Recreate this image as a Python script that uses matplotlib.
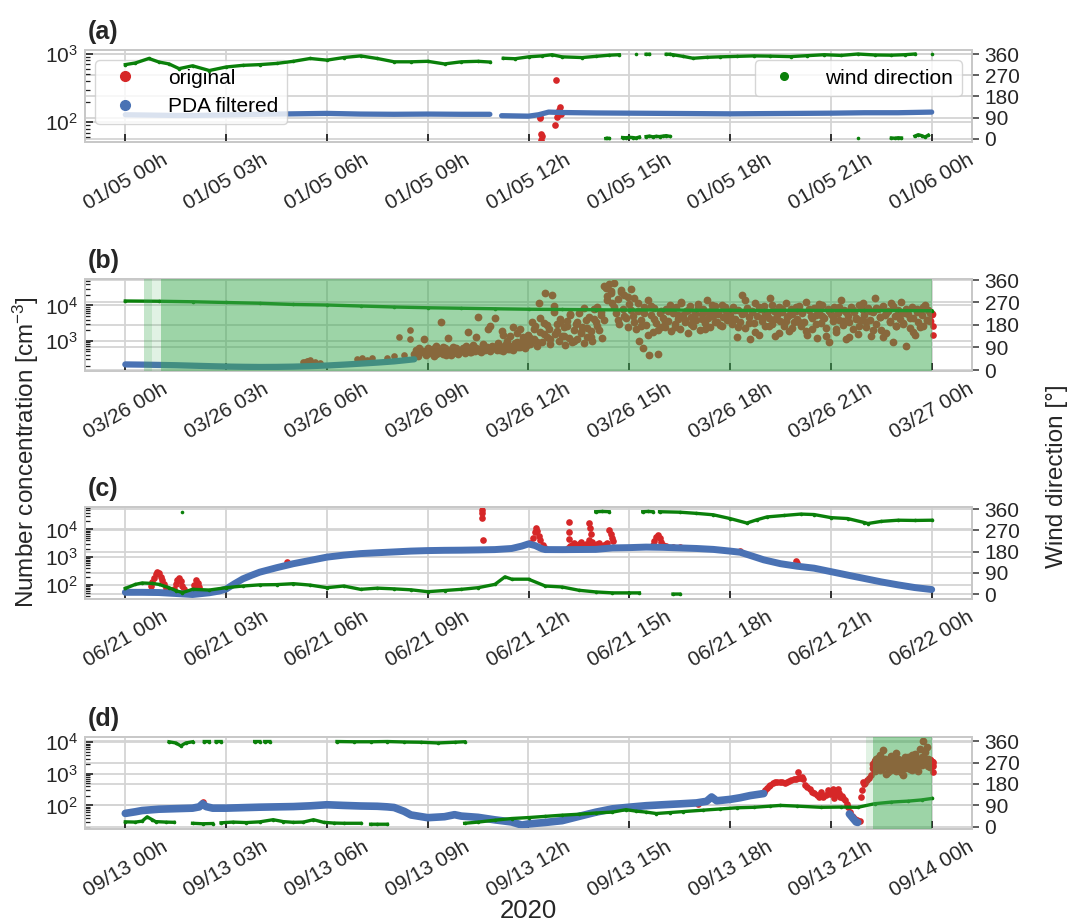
import numpy as np
import matplotlib
matplotlib.use('Agg')
import matplotlib.pyplot as plt
import matplotlib.dates as mdates
import matplotlib.ticker as mticker
import matplotlib.transforms as mtransforms
from matplotlib.lines import Line2D

nan = np.nan

plt.rcParams['font.family'] = ['Liberation Sans', 'DejaVu Sans']
plt.rcParams['mathtext.fontset'] = 'custom'
plt.rcParams['mathtext.rm'] = 'Liberation Sans'
plt.rcParams['mathtext.it'] = 'Liberation Sans:italic'
plt.rcParams['mathtext.bf'] = 'Liberation Sans:bold'

# ------------------------------------------------------------------ data
DAYS = ['2020-01-05', '2020-03-26', '2020-06-21', '2020-09-13']
PANEL_LABELS = ['(a)', '(b)', '(c)', '(d)']
WIND_TICKS = [0, 90, 180, 270, 360]

# ---- panel (a) 01/05
A_WIND_H = [0.0, 0.3, 0.7, 1.0, 1.3, 1.6, 2.0, 2.5, 3.0, 3.5,
            4.0, 4.5, 5.0, 5.5, 6.0, 6.5, 7.0, 7.5, 8.0, 8.5,
            9.0, 9.5, 10.0, 10.5, 10.85, 11.0, 11.25, 11.6, 12.0, 12.4,
            12.7, 13.0, 13.6, 14.0, 14.4, 14.7, 14.9, 15.2, 15.35, 15.5,
            15.6, 15.8, 16.1, 16.2, 16.25, 16.3, 16.6, 16.9, 17.3, 17.7,
            18.2, 18.7, 19.2, 19.8, 20.3, 20.8, 21.3, 21.8, 22.3, 22.8,
            23.2, 23.5, 23.7, 24.0]
A_WIND_DEG = [315, 322, 341, 326, 318, 298, 310, 290, 305, 312,
              315, 320, 329, 341, 334, 345, 352, 341, 327, 327,
              329, 318, 327, 329, 326, nan, 342, 340, 348, 352,
              357, 348, 345, 350, 355, 357, nan, 359, nan, 359,
              359, nan, 359, 359, nan, 357, 350, 342, 346, 348,
              350, 352, 351, 349, 353, 357, 354, 360, 356, 355,
              357, 360, nan, 358]
A_WLOW_H = [14.30, 14.35, 14.40, 14.50, 14.80, 14.90, 15.00, 15.10, 15.20, 15.30,
            15.40, 15.50, 15.60, 15.70, 15.80, 15.90, 16.00, 16.10, 16.20, 16.30,
            21.80, 21.85, 22.80, 22.90, 23.00, 23.10, 23.20, 23.50, 23.60, 23.70,
            23.80, 23.90]
A_WLOW_DEG = [2, 3, 2, nan, 6, 5, 7, 6, 4, 8,
              nan, 10, 12, 9, 11, 10, 12, 14, 11, nan,
              3, nan, 4, 3, 5, 4, nan, 12, 18, 14,
              8, 16]
A_PDA_H = [0, 0.5, 1, 1.5, 2, 3, 4, 5, 6, 7,
           8, 9, 10, 10.85, 11.0, 11.2, 11.6, 12.0, 12.3, 12.6,
           13, 14, 15, 16, 17, 18, 19, 20, 21, 22,
           23, 24]
A_PDA_V = [128, 127, 126, 125, 125, 127, 130, 132, 134, 131,
           130, 131, 130, 130, nan, 124, 123, 122, 128, 140,
           138, 136, 135, 134, 133, 132, 133, 134, 135, 137,
           137, 140]
A_ORIG_H = [12.33, 12.35, 12.36, 12.38, 12.40, 12.80, 12.83, 12.86, 12.90, 12.93, 12.96]
A_ORIG_V = [115, 118, 67, 55, 62, 91, 420, 119, 150, 167, 130]

# ---- panel (b) 03/26
B_WIND_H = [0, 1, 2, 3, 4, 5, 6, 7, 8, 9, 10, 11, 12, 13, 14, 15, 16, 17, 18, 19, 20, 21, 22, 23, 24]
B_WIND_DEG = [276, 275, 273, 270, 267, 262, 260, 256, 252, 249, 247, 245, 243,
              242, 241, 240, 240, 239, 239, 238, 239, 238, 238, 238, 237]
B_PDA_H = [0, 0.5, 1, 1.5, 2, 2.5, 3, 3.5, 4, 4.5, 5, 5.5, 6, 6.5, 7, 7.5, 8, 8.3, 8.6]
B_PDA_V = [215, 212, 208, 204, 198, 192, 187, 184, 182, 183, 186, 192, 200, 212,
           226, 242, 262, 280, 300]
B_ORIG_PRE_H = [5.30, 5.35, 5.40, 5.45, 5.50, 5.65, 5.80, 6.90, 7.05, 7.20,
                7.35, 7.80, 8.00, 8.16, 8.30, 8.46, 8.48]
B_ORIG_PRE_V = [255, 250, 265, 275, 285, 255, 240, 300, 320, 295,
                330, 335, 370, 1290, 400, 1960, 1100]
B_CLOUD_START, B_CLOUD_STEP = 8.60, 0.05
B_CLOUD_V = [
    420, 560, 380, 610, 470, 520, 1150, 400, 640, 450,
    500, 590, 380, 700, 460, 530, 3300, 420, 610, 480,
    1200, 540, 400, 650, 470, 580, 430, 520,
    500, 620, 450, 700, 1800, 560, 480, 760, 520, 640,
    4700, 590, 470, 820, 540, 660, 2100, 500, 720, 610,
    4400, 560, 880, 650, 1900, 520, 760, 980, 600, 1400,
    700, 540, 860, 1700, 650, 2200, 780, 1100, 620, 900,
    1500, 800, 3400, 1100, 2600, 700, 12000, 1800, 950, 3100,
    23000, 1300, 2200, 800, 20000, 6500, 1600, 2900, 1000, 4200,
    1400, 2500, 750, 3600, 1200, 5200, 900, 2000, 3000, 1100,
    6000, 1700, 2400, 850, 3800, 1300, 4600, 1900, 1000, 7800,
    3500, 9000, 2000, 5500, 1200, 4000, 32000, 18000, 40000, 25000,
    12000, 44000, 6000, 15000, 3000, 28000, 8000, 20000, 4500, 2500,
    11000, 30000, 5000, 16000, 2200, 7000, 1000, 3800, 620, 9000,
    2800, 14000, 400, 5200, 1800, 8500, 3200, 420, 6200, 2400,
    4500, 2500, 7800, 3600, 10500, 1900, 6000, 3000, 8800, 4200,
    2200, 12500, 5200, 3300, 7000, 1700, 9500, 4800, 2700, 6500,
    3900, 11000, 2000, 5600, 8000, 3100, 14000, 4400, 2400, 7200,
    5000, 9800, 3500, 6300, 2800, 10000, 4600, 7600, 3800, 6800,
    5500, 2900, 9000, 4100, 1300, 7400, 3400, 20000, 6000, 2300,
    8300, 4800, 1100, 6800, 3200, 11500, 5000, 1500, 7900, 3700,
    9500, 2600, 6100, 4300, 16000, 3000, 7000, 1400, 5300, 9000,
    3600, 6400, 2700, 12000, 4700, 1900, 8200, 5800, 3300, 7100,
    4200, 9800, 2600, 6500, 3400, 12500, 1500, 7200, 4900, 2100,
    8600, 5400, 1200, 6900, 3100, 10500, 4500, 2300, 7700, 900,
    5700, 3600, 9200, 1800, 6300, 4000, 14000, 2800, 7500, 1100,
    5100, 3300, 8900, 2200, 6600, 4400, 1600, 10000, 3900, 7300,
    5200, 2500, 8700, 3800, 1400, 6400, 16000, 3000, 7900, 4600,
    2000, 9600, 5500, 1700, 6800, 3500, 11500, 900, 4900, 2700,
    7600, 4200, 12500, 3100, 6200, 700, 5800, 2300, 9000, 4500,
    1500, 8100, 3300, 6900, 5300, 2600, 10500, 4000, 7300, 3600,
    5900]
B_CLOUD2_START, B_CLOUD2_STEP = 9.05, 0.1
B_CLOUD2_V = [
    480, 590, 430, 520, 660, 400, 560, 450, 620, 510,
    540, 680, 470, 600, 1300, 520, 740, 580, 2600, 640,
    700, 560, 1500, 820, 600, 2400, 950, 680, 1250, 780,
    1200, 2100, 900, 4500, 1600, 2800, 1100, 9500, 1900, 3300,
    1400, 2600, 5600, 1000, 3300, 1800, 8500, 2300, 1300, 4200,
    2600, 6500, 36000, 14000, 22000, 9000, 3800, 24000, 5000, 17000,
    7500, 3400, 12000, 2600, 6000, 1500, 9500, 4200, 2000, 7000,
    3300, 6800, 9200, 2500, 5400, 12000, 3800, 7400, 2900, 5900,
    8400, 4200, 2100, 6600, 10500, 3500, 5800, 2600, 9000, 4900,
    3700, 7600, 2400, 5800, 14000, 3200, 6600, 1800, 9200, 4500,
    6100, 2700, 10500, 4200, 1700, 7800, 3600, 5400, 2300, 8800,
    3300, 6200, 1900, 8200, 4500, 2900, 11000, 5100, 1400, 6800,
    4600, 2100, 9000, 3700, 6400, 1300, 7400, 4200, 2700, 12000,
    3400, 6800, 2000, 8600, 4700, 1300, 6200, 3600, 9800, 2600,
    5600, 3000, 7800, 4400, 1800, 6600, 2500, 9300, 4000, 6000]
B_ORIG_END_H = [24.04, 24.04]
B_ORIG_END_V = [2600, 1500]
B_SHADE = (0.55, 24.0)

# ---- panel (c) 06/21
C_WIND_LO_H = [0.0, 0.3, 0.5, 0.8, 1.0, 1.3, 1.5, 1.7, 2.0, 2.5,
               3.0, 3.5, 4.0, 4.5, 5.0, 5.5, 6.0, 6.5, 7.0, 7.5,
               8.0, 8.5, 9.0, 9.5, 10.0, 10.5, 11.0, 11.3, 11.5, 12.0,
               12.5, 13.0, 13.5, 14.0, 14.5, 15.0, 15.3, 15.5, 16.3, 16.5]
C_WIND_LO_DEG = [24, 41, 47, 45, 41, 27, 15, 6, 20, 17,
                 27, 34, 39, 40, 44, 38, 27, 34, 20, 25,
                 22, 18, 10, 15, 20, 27, 41, 73, 63, 63,
                 34, 30, 16, 9, 5, 5, 5, nan, 0, 0]
C_WIND_HI_H = [1.7, 1.75, 14.0, 14.2, 14.4, 14.5, 15.4, 15.55, 15.7, 15.8,
               15.9, 16.5, 17.0, 17.5, 18.0, 18.5, 18.8, 19.1, 19.6, 20.1,
               20.5, 21.0, 21.5, 22.0, 22.1, 22.5, 23.0, 23.5, 24.0]
C_WIND_HI_DEG = [349, nan, 349, 350, 349, nan, 349, 350, 349, nan,
                 349, 347, 342, 336, 320, 301, 315, 327, 333, 339,
                 337, 324, 320, 303, 299, 308, 313, 312, 313]
C_PDA_H = [0, 0.5, 1, 1.5, 2, 2.5, 2.8, 3, 3.25, 3.5,
           3.75, 4, 4.5, 5, 5.5, 6, 6.5, 7, 7.5, 8,
           8.5, 9, 9.5, 10, 10.5, 11, 11.5, 11.8, 12.0, 12.2,
           12.4, 12.5, 13, 13.5, 14, 14.5, 15, 15.5, 16, 16.5,
           17, 17.5, 18, 18.3, 18.6, 19, 19.5, 20, 20.5, 21,
           21.5, 22, 22.5, 23, 23.5, 24]
C_PDA_V = [54, 54, 53, 49, 45, 52, 60, 71, 110, 165,
           220, 287, 415, 580, 760, 1000, 1180, 1340, 1440, 1540,
           1650, 1720, 1760, 1780, 1820, 1870, 2050, 2500, 3000, 2600,
           2000, 1870, 1860, 1880, 1900, 2150, 2200, 2300, 2250, 2150,
           2050, 1900, 1650, 1500, 1150, 800, 580, 470, 400, 300,
           225, 170, 128, 100, 80, 68]
C_ORIG_H = [0.75, 0.80, 0.85, 0.90, 0.95, 1.00, 1.05, 1.10, 1.15, 1.20,
            1.45, 1.50, 1.55, 1.60, 1.65, 1.70, 1.75,
            2.00, 2.05, 2.10, 2.15, 2.20, 2.25,
            4.80,
            10.61, 10.63, 10.63, 10.65,
            12.05, 12.12, 12.18, 12.22, 12.26, 12.30, 12.35, 12.42, 12.50,
            13.18, 13.20, 13.22, 13.22, 13.25, 13.28,
            13.40, 13.50, 13.60,
            13.75, 13.80, 13.80, 13.82, 13.85, 13.88, 13.95,
            14.05, 14.15, 14.25, 14.35,
            14.40, 14.45, 14.48, 14.52,
            15.70, 15.75, 15.80, 15.85, 15.90, 15.95, 16.00, 16.10, 16.30, 16.50,
            18.30,
            19.95, 19.98, 20.00,
            13.30, 13.35, 13.45, 13.55, 13.65, 13.70, 13.90, 14.00, 14.10, 14.20, 14.30]
C_ORIG_V = [90, 130, 180, 240, 300, 260, 200, 150, 110, 80,
            70, 110, 150, 175, 140, 95, 70,
            65, 100, 145, 120, 85, 60,
            660,
            25000, 48000, 38000, 4100,
            3200, 5000, 8000, 11000, 8500, 6000, 4000, 2800, 2200,
            2200, 4400, 19000, 8100, 2500, 2300,
            2600, 2900, 2400,
            2500, 16500, 4000, 11000, 7000, 3000, 2600,
            3000, 2500, 2800, 3300,
            9400, 7000, 5000, 3800,
            2800, 3800, 5200, 6200, 4800, 3500, 2800, 2500, 2400, 2300,
            1700,
            720, 530, 600,
            2700, 3100, 2500, 3400, 2700, 3000, 3500, 2700, 3200, 2600, 3000]

# ---- panel (d) 09/13
D_WIND_LO_H = [0.0, 0.3, 0.5, 0.65, 0.8, 0.9, 1.2, 1.45, 1.5, 2.0,
               2.3, 2.6, 2.7, 2.85, 3.2, 3.6, 4.0, 4.4, 4.7, 5.0,
               5.3, 5.6, 5.9, 6.2, 6.5, 7.0, 7.15, 7.3, 7.5, 7.8,
               7.9, 10.1, 10.5, 11.0, 11.5, 12.0, 12.5, 13.0, 13.5, 14.0,
               14.5, 14.9, 15.2, 15.5, 15.8, 16.2, 16.6, 17.2, 17.7, 18.2,
               18.7, 19.2, 19.5, 20.0, 20.7, 21.3, 21.8, 22.3, 22.8, 23.3,
               23.7, 24.0]
D_WIND_LO_DEG = [21, 20, 24, 42, 30, 22, 20, 19, nan, 15,
                 13, 14, nan, 17, 20, 18, 21, 30, 22, 19,
                 20, 30, 19, 16, 15, 15, nan, 11, 11, 11,
                 nan, 15, 20, 28, 35, 39, 44, 49, 53, 58,
                 62, 72, 66, 62, 56, 60, 64, 70, 75, 80,
                 82, 87, 90, 87, 82, 83, 82, 97, 104, 108,
                 113, 119]
D_WIND_HI_H = [1.3, 1.5, 1.65, 1.8, 2.0, 2.1, 2.35, 2.5, 2.6, 2.7,
               2.85, 3.0, 3.85, 4.0, 4.05, 4.15, 4.3, 4.4, 6.3, 6.8,
               7.3, 7.8, 8.3, 8.8, 9.3, 9.8, 10.1]
D_WIND_HI_DEG = [357, 352, 340, 352, 357, nan, 358, 358, nan, 358,
                 358, nan, 358, 358, nan, 358, 358, nan, 358, 357,
                 357, 358, 356, 355, 352, 355, 357]
D_PDA_H = [0, 0.3, 0.5, 1, 1.5, 2, 2.2, 2.3, 2.4, 2.6,
           3, 3.5, 4, 4.5, 5, 5.5, 6, 6.5, 7, 7.5,
           7.8, 8.0, 8.3, 8.5, 9, 9.5, 9.8, 10, 10.5, 11,
           11.5, 11.8, 12.0, 12.5, 13.0, 13.5, 14.0, 14.5, 15.0, 15.5,
           16.0, 16.5, 17.0, 17.3, 17.45, 17.6, 18.0, 18.3, 18.6, 19.0,
           19.05, 21.55, 21.65, 21.75, 21.8]
D_PDA_V = [56, 63, 69, 76, 79, 82, 90, 113, 92, 82,
           82, 85, 88, 90, 92, 97, 105, 100, 96, 94,
           90, 86, 65, 50, 41, 44, 51, 46, 42, 35,
           30, 24, 26, 29, 33, 45, 61, 78, 88, 98,
           105, 112, 120, 135, 185, 140, 155, 175, 205, 237,
           nan, 54, 40, 30, 29]
D_ORIG_H = [2.30, 17.05,
            18.95, 19.00, 19.05, 19.10, 19.15, 19.20, 19.28, 19.35, 19.41, 19.48,
            19.55, 19.62, 19.70, 19.76, 19.82, 19.90, 19.97, 20.03, 20.03, 20.08,
            20.13, 20.18, 20.23, 20.30, 20.37, 20.44, 20.50, 20.58, 20.65, 20.70,
            20.72, 20.78, 20.85, 20.90, 20.92, 20.98, 21.00, 21.06, 21.10, 21.12,
            21.18, 21.20, 21.25, 21.26, 21.32, 21.37, 21.42, 21.47, 21.52, 21.57,
            21.62, 21.67, 21.72, 21.78, 21.86, 21.90, 21.93, 21.96, 22.00, 22.03,
            22.08, 22.13, 22.18]
D_ORIG_V = [125, 115,
            245, 270, 310, 360, 400, 440, 500, 540, 560, 545,
            530, 520, 550, 590, 620, 680, 700, 720, 1170, 760,
            810, 700, 440, 380, 320, 270, 240, 210, 185, 260,
            200, 190, 210, 300, 250, 230, 280, 330, 170, 220,
            260, 340, 240, 185, 200, 170, 145, 110, 88, 60,
            48, 42, 37, 35, 33, 185, 300, 560, 480, 500,
            640, 720, 900]
D_LATE_START, D_LATE_STEP = 22.25, 0.05
D_LATE_V1 = [1500, 2600, 1900, 3200, 1300, 2200, 5500, 1700, 2800, 1100,
             2400, 3600, 1600, 2000, 1200, 2900, 1800, 2300, 900, 2600,
             1500, 3400, 2000, 1300, 2700, 4200, 1900, 2500, 6000, 3300,
             11000, 2200, 7000, 1700, 2800, 2100]
D_LATE_V2 = [2000, 1200, 2900, 1700, 3800, 1400, 2100, 3000, 1000, 2600,
             1900, 1300, 3100, 2400, 4500, 1600, 2700, 1100, 2000, 3300,
             1800, 2300, 1400, 3900, 2200, 1700, 3000, 1200, 2600, 1900,
             3400, 4800, 2100, 2900, 1600, 2400]
D_ORIG_END_H = [24.03, 24.03, 24.03]
D_ORIG_END_V = [1800, 1100, 2300]
D_SHADE = (22.25, 24.0)

# axis limits
LEFT_LIMS = [(51, 1140), (140, 56000), (31, 64000), (18, 14500)]
RIGHT_LIMS = [(-13, 377), (-4, 364), (-21, 369), (-9, 377)]

# ------------------------------------------------------------------ style
RED = '#d62728'
BLUE = '#4a72b4'
GREEN = '#0a800a'
SHADE = '#3caa50'
SHADE_ALPHA = 0.5
GRID = '#d4d4d4'
SPINE = '#c8c8c8'
TXT = '#262626'

W, H = 1070, 922
fig = plt.figure(figsize=(W / 100, H / 100), dpi=100)

AX_LEFT, AX_RIGHT = 85, 972
AX_TOPS = [50, 279, 507, 737]
AX_H = 92


def dx(day, hours):
    return mdates.date2num(np.datetime64(day)) + np.asarray(hours, dtype=float) / 24.0


def grid_times(start, step, n):
    return np.round(start + step * np.arange(n), 3)


axes = []
for i in range(4):
    top = AX_TOPS[i]
    ax = fig.add_axes([AX_LEFT / W, 1 - (top + AX_H) / H, (AX_RIGHT - AX_LEFT) / W, AX_H / H])
    ax2 = ax.twinx()
    day = DAYS[i]
    ax.set_yscale('log')
    ax.set_ylim(*LEFT_LIMS[i])
    ax2.set_ylim(*RIGHT_LIMS[i])
    ax.set_xlim(dx(day, -1.2), dx(day, 25.2))
    ax.yaxis.set_major_locator(mticker.LogLocator(base=10, numticks=10))
    ax.yaxis.set_minor_locator(mticker.LogLocator(base=10, subs=np.arange(2, 10), numticks=100))
    ax.yaxis.set_minor_formatter(mticker.NullFormatter())
    ax.xaxis.set_major_locator(mdates.HourLocator(byhour=range(0, 24, 3)))
    ax.xaxis.set_major_formatter(mdates.DateFormatter('%m/%d %Hh'))
    ax.tick_params(axis='x', which='major', direction='in', length=6, width=1.3,
                   color='#222222', labelcolor=TXT, labelsize=15, labelrotation=30, pad=6)
    ax.tick_params(axis='y', which='major', direction='in', length=6, width=1.2,
                   color='#222222', labelcolor=TXT, labelsize=15, pad=5)
    ax.tick_params(axis='y', which='minor', direction='in', length=3.5, width=0.9, color='#222222')
    ax2.set_yticks(WIND_TICKS)
    ax2.tick_params(axis='y', direction='out', length=5, width=1.2, color='#444444',
                    labelcolor=TXT, labelsize=15, pad=4)
    ax2.grid(False)
    ax.grid(True, which='major', axis='both', color=GRID, lw=1.3)
    ax.set_axisbelow(True)
    trans = mtransforms.blended_transform_factory(ax.transAxes, ax2.transData)
    for v in WIND_TICKS:
        ax.add_line(Line2D([0, 1], [v, v], transform=trans, color=GRID, lw=1.3, zorder=0.5))
    for a in (ax, ax2):
        for sp in a.spines.values():
            sp.set_color(SPINE)
            sp.set_linewidth(1.3)
    fig.text(88 / W, 1 - (top - 18) / H, PANEL_LABELS[i], fontsize=18, fontweight='bold',
             color=TXT, ha='left', va='center')
    axes.append((ax, ax2, day))

ORIG_KW = dict(ls='none', marker='o', color=RED, ms=4.8, mew=0, zorder=2)
CLOUD_KW = dict(ls='none', marker='o', color=RED, ms=5.6, mew=0, zorder=2)
WIND_KW = dict(ls='-', lw=2.4, marker='o', ms=2.6, mew=0, color=GREEN, zorder=2)


def pda(ax, day, h, v, lw):
    ax.plot(dx(day, h), v, '-', color=BLUE, lw=lw, solid_capstyle='round', zorder=3)


def shade(ax, day, span, fades):
    for (h0, h1, a) in fades:
        ax.axvspan(dx(day, h0), dx(day, h1), color=SHADE, alpha=a, lw=0, zorder=10)
    ax.axvspan(dx(day, span[0]), dx(day, span[1]), color=SHADE, alpha=SHADE_ALPHA, lw=0, zorder=10)


# panel (a)
ax, ax2, day = axes[0]
ax.plot(dx(day, A_ORIG_H), A_ORIG_V, **ORIG_KW)
pda(ax, day, A_PDA_H, A_PDA_V, 3.8)
ax2.plot(dx(day, A_WIND_H), A_WIND_DEG, **WIND_KW)
ax2.plot(dx(day, A_WLOW_H), A_WLOW_DEG, **WIND_KW)
h_o = Line2D([], [], ls='none', marker='o', color=RED, ms=7)
h_p = Line2D([], [], ls='none', marker='o', color=BLUE, ms=7)
ax.legend([h_o, h_p], ['original', 'PDA filtered'], loc='upper left', fontsize=15,
          framealpha=0.8, edgecolor='#cccccc', handlelength=2.0, handletextpad=1.1,
          labelspacing=0.45, borderpad=0.4)
h_w = Line2D([], [], ls='none', marker='o', color=GREEN, ms=5.5)
ax2.legend([h_w], ['wind direction'], loc='upper right', fontsize=15,
           framealpha=0.8, edgecolor='#cccccc', handlelength=2.0, handletextpad=1.0,
           borderpad=0.4)

# panel (b)
ax, ax2, day = axes[1]
b_cloud_h = grid_times(B_CLOUD_START, B_CLOUD_STEP, len(B_CLOUD_V))
b_cloud2_h = grid_times(B_CLOUD2_START, B_CLOUD2_STEP, len(B_CLOUD2_V))
ax.plot(dx(day, B_ORIG_PRE_H), B_ORIG_PRE_V, **ORIG_KW)
ax.plot(dx(day, b_cloud_h), B_CLOUD_V, **CLOUD_KW)
ax.plot(dx(day, b_cloud2_h), B_CLOUD2_V, **CLOUD_KW)
ax.plot(dx(day, B_ORIG_END_H), B_ORIG_END_V, **ORIG_KW)
pda(ax, day, B_PDA_H, B_PDA_V, 4.5)
ax2.plot(dx(day, B_WIND_H), B_WIND_DEG, **WIND_KW)
shade(ax2, day, (1.05, B_SHADE[1]), [(B_SHADE[0], 0.8, 0.3), (0.8, 1.05, 0.15)])

# panel (c)
ax, ax2, day = axes[2]
ax.plot(dx(day, C_ORIG_H), C_ORIG_V, **ORIG_KW)
pda(ax, day, C_PDA_H, C_PDA_V, 5.0)
ax2.plot(dx(day, C_WIND_LO_H), C_WIND_LO_DEG, **WIND_KW)
ax2.plot(dx(day, C_WIND_HI_H), C_WIND_HI_DEG, **WIND_KW)

# panel (d)
ax, ax2, day = axes[3]
d_late_h = grid_times(D_LATE_START, D_LATE_STEP, len(D_LATE_V1))
ax.plot(dx(day, D_ORIG_H), D_ORIG_V, **ORIG_KW)
ax.plot(dx(day, d_late_h), D_LATE_V1, **CLOUD_KW)
ax.plot(dx(day, d_late_h), D_LATE_V2, **CLOUD_KW)
ax.plot(dx(day, D_ORIG_END_H), D_ORIG_END_V, **ORIG_KW)
pda(ax, day, D_PDA_H, D_PDA_V, 5.5)
ax2.plot(dx(day, D_WIND_LO_H), D_WIND_LO_DEG, **WIND_KW)
ax2.plot(dx(day, D_WIND_HI_H), D_WIND_HI_DEG, **WIND_KW)
shade(ax2, day, D_SHADE, [(22.05, D_SHADE[0], 0.15)])

# shared labels
fig.text(26 / W, 1 - 452 / H, 'Number concentration [cm$^{-3}$]', rotation=90,
         ha='center', va='center', fontsize=17.5, color=TXT)
fig.text(1057 / W, 1 - 476 / H, 'Wind direction [°]', rotation=90,
         ha='center', va='center', fontsize=17.5, color=TXT)
fig.text(528 / W, 1 - 911 / H, '2020', ha='center', va='center', fontsize=18.5, color=TXT)

fig.savefig('out.png', dpi=100)
